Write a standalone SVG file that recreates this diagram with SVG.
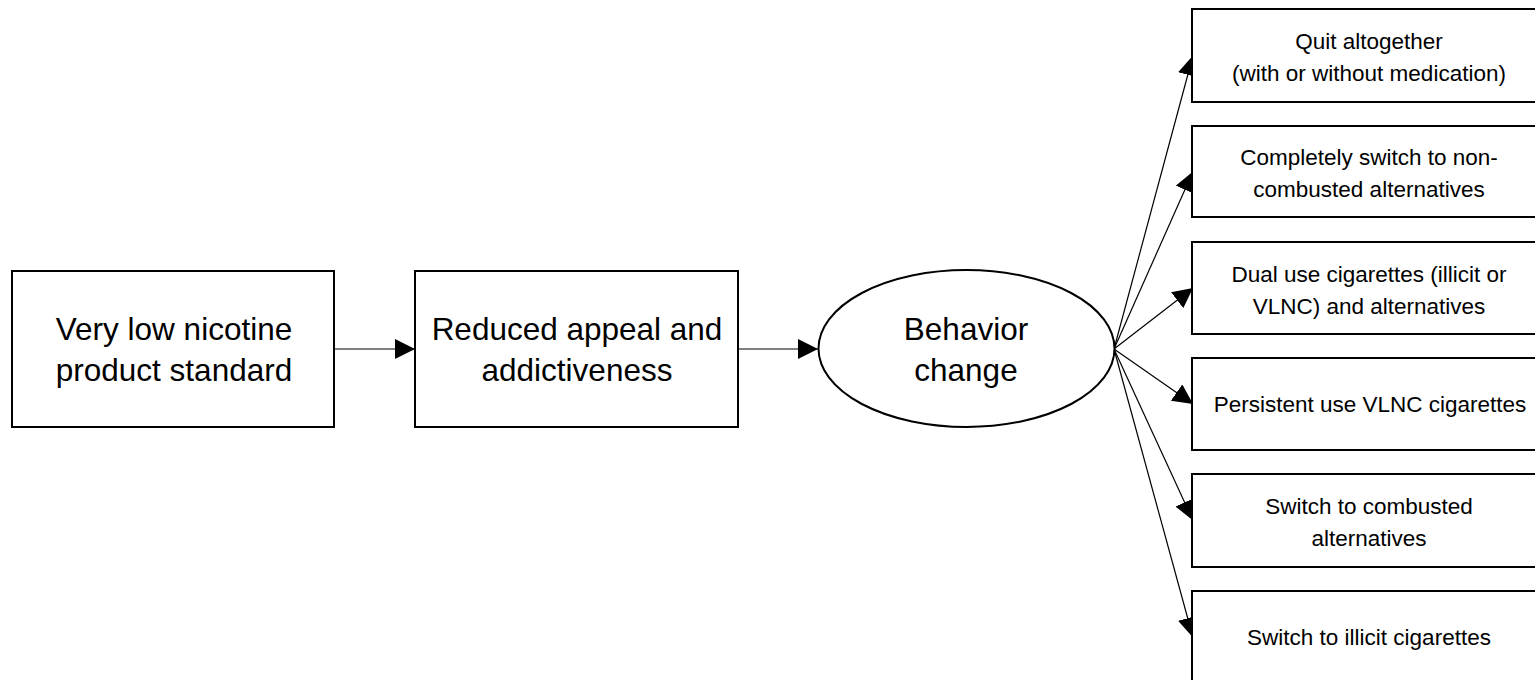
<svg xmlns="http://www.w3.org/2000/svg" width="1535" height="680" viewBox="0 0 1535 680">
<style>
.box{fill:#fff;stroke:#000;stroke-width:2}
.big{font-family:"Liberation Sans",Arial,sans-serif;font-size:31.5px;fill:#000;text-anchor:middle}
.sm{font-family:"Liberation Sans",Arial,sans-serif;font-size:22.5px;fill:#000;text-anchor:middle}
.conn{stroke:#000;stroke-width:1.2;fill:none;marker-end:url(#ah)}
</style>
<defs>
<marker id="ah" markerUnits="userSpaceOnUse" markerWidth="20" markerHeight="20" refX="20" refY="10" orient="auto" viewBox="0 0 20 20">
<path d="M0,0 L20,10 L0,20 z" fill="#000"/>
</marker>
</defs>
<rect width="1535" height="680" fill="#fff"/>
<g id="connectors">
<line class="conn" x1="334" y1="349" x2="415" y2="349"/>
<line class="conn" x1="738" y1="349" x2="818" y2="349"/>
<line class="conn" x1="1114" y1="349" x2="1193" y2="55.5"/>
<line class="conn" x1="1114" y1="349" x2="1193" y2="171.5"/>
<line class="conn" x1="1114" y1="349" x2="1193" y2="288"/>
<line class="conn" x1="1114" y1="349" x2="1193" y2="404"/>
<line class="conn" x1="1114" y1="349" x2="1193" y2="520.5"/>
<line class="conn" x1="1114" y1="349" x2="1193" y2="637.5"/>
</g>
<g id="n-standard">
<rect class="box" x="12" y="271" width="322" height="156"/>
<text class="big" x="174" y="340">Very low nicotine</text>
<text class="big" x="174" y="381">product standard</text>
</g>
<g id="n-appeal">
<rect class="box" x="415" y="271" width="323" height="156"/>
<text class="big" x="577" y="340">Reduced appeal and</text>
<text class="big" x="577" y="381">addictiveness</text>
</g>
<g id="n-behavior">
<ellipse fill="#fff" stroke="#000" stroke-width="2" cx="966.5" cy="348.5" rx="148" ry="78.5"/>
<text class="big" x="966" y="340">Behavior</text>
<text class="big" x="966" y="381">change</text>
</g>
<g id="o-quit">
<rect class="box" x="1192" y="9" width="360" height="93"/>
<text class="sm" x="1369" y="48.5">Quit altogether</text>
<text class="sm" x="1369" y="80.5">(with or without medication)</text>
</g>
<g id="o-switch-noncombusted">
<rect class="box" x="1192" y="126" width="360" height="91"/>
<text class="sm" x="1369" y="165">Completely switch to non-</text>
<text class="sm" x="1369" y="197">combusted alternatives</text>
</g>
<g id="o-dual">
<rect class="box" x="1192" y="242" width="360" height="92"/>
<text class="sm" x="1369" y="282">Dual use cigarettes (illicit or</text>
<text class="sm" x="1369" y="314">VLNC) and alternatives</text>
</g>
<g id="o-persistent">
<rect class="box" x="1192" y="358" width="360" height="92"/>
<text class="sm" x="1370" y="412">Persistent use VLNC cigarettes</text>
</g>
<g id="o-combusted">
<rect class="box" x="1192" y="474" width="360" height="93"/>
<text class="sm" x="1369" y="514">Switch to combusted</text>
<text class="sm" x="1369" y="546">alternatives</text>
</g>
<g id="o-illicit">
<rect class="box" x="1192" y="591" width="360" height="100"/>
<text class="sm" x="1369" y="645">Switch to illicit cigarettes</text>
</g>
</svg>
